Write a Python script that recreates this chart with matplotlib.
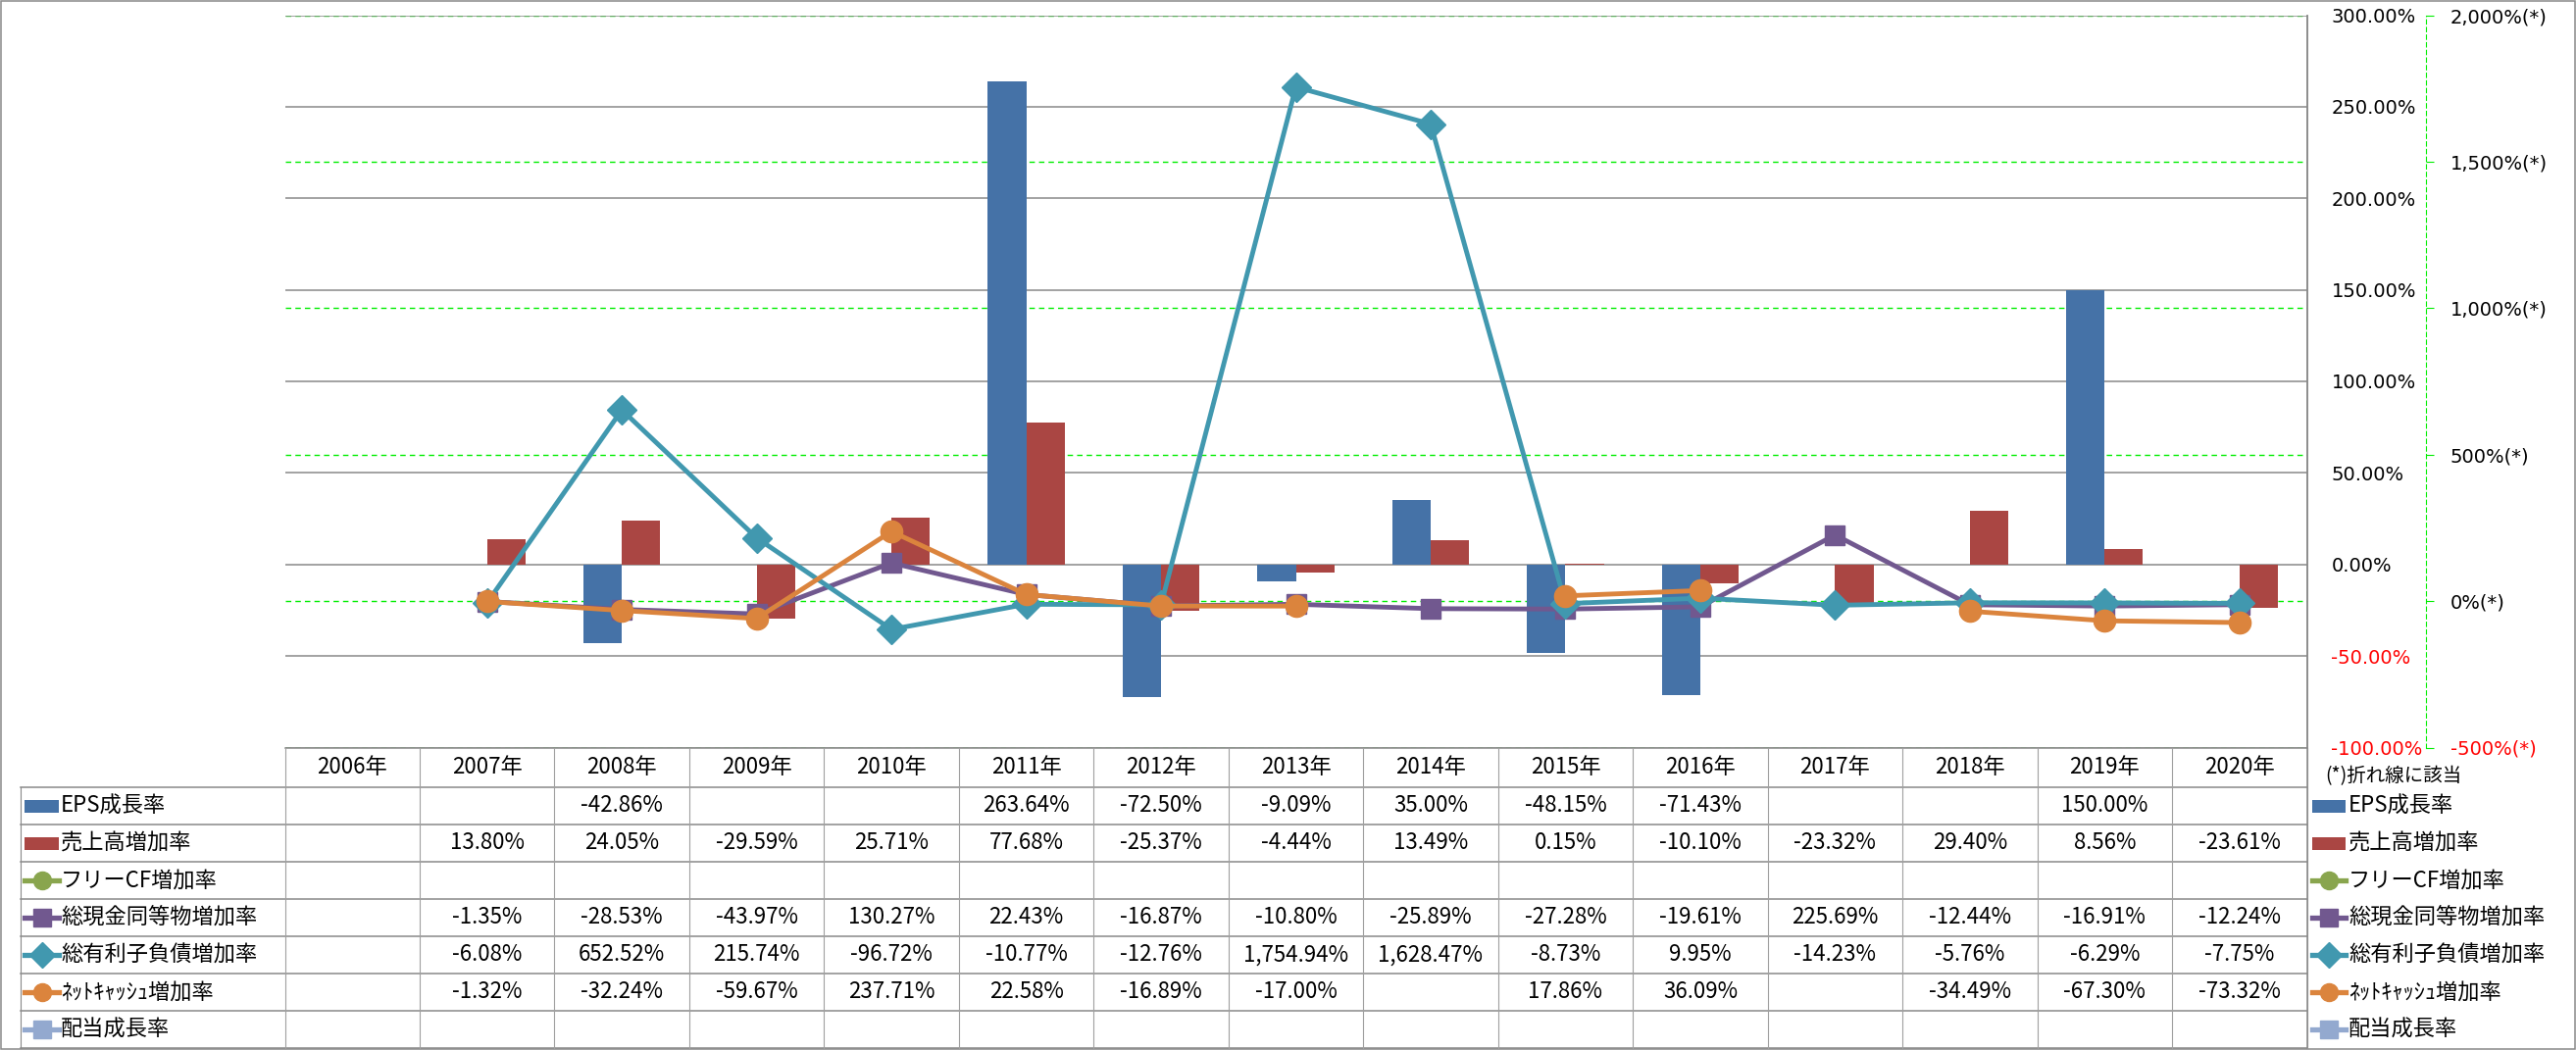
import numpy as np
import matplotlib.pyplot as plt
from matplotlib.patches import Rectangle
from matplotlib.lines import Line2D

plt.rcParams['font.family'] = ['Noto Sans CJK JP', 'DejaVu Sans']

# --- data ---
nan = np.nan
years = [f'{y}年' for y in range(2006, 2021)]
eps = [nan, nan, -42.86, nan, nan, 263.64, -72.50, -9.09, 35.00, -48.15, -71.43, nan, nan, 150.00, nan]
sales = [nan, 13.80, 24.05, -29.59, 25.71, 77.68, -25.37, -4.44, 13.49, 0.15, -10.10, -23.32, 29.40, 8.56, -23.61]
fcf = [nan] * 15
cash = [nan, -1.35, -28.53, -43.97, 130.27, 22.43, -16.87, -10.80, -25.89, -27.28, -19.61, 225.69, -12.44, -16.91, -12.24]
debt = [nan, -6.08, 652.52, 215.74, -96.72, -10.77, -12.76, 1754.94, 1628.47, -8.73, 9.95, -14.23, -5.76, -6.29, -7.75]
netcash = [nan, -1.32, -32.24, -59.67, 237.71, 22.58, -16.89, -17.00, nan, 17.86, 36.09, nan, -34.49, -67.30, -73.32]
dividend = [nan] * 15

names = ['EPS成長率', '売上高増加率', 'フリーCF増加率', '総現金同等物増加率',
         '総有利子負債増加率', 'ﾈｯﾄｷｬｯｼｭ増加率', '配当成長率']
values = [eps, sales, fcf, cash, debt, netcash, dividend]
kinds = ['bar', 'bar', 'line', 'line', 'line', 'line', 'line']
colors = ['#4572A7', '#AA4643', '#89A54E', '#71588F', '#4198AF', '#DB843D', '#93A9CF']
markers = [None, None, 'o', 's', 'D', 'o', 's']
msizes = [0, 0, 16, 15, 15.5, 16, 15]

prim_ticks = list(range(-100, 301, 50))
sec_ticks = list(range(-500, 2001, 500))

# --- layout (pixels) ---
W, H = 2627, 1071
PL, PR, PT, PB = 290.5, 2352.5, 15.5, 762.5
CW = (PR - PL) / len(years)
HDR_B = 803
ROW_H = 38
LBL_L = 21
GRAY = '#898989'
px = 0.72  # pixels -> points at dpi 100

fig = plt.figure(figsize=(W / 100, H / 100), dpi=100)
pos = [PL / W, 1 - PB / H, (PR - PL) / W, (PB - PT) / H]
x = np.arange(len(years))

# secondary axis (green grid + labels), drawn lowest
ax_sec = fig.add_axes(pos, zorder=1)
ax_sec.patch.set_visible(False)
ax_sec.set_xlim(-0.5, len(years) - 0.5)
ax_sec.set_ylim(-500, 2000)
ax_sec.set_yticks(sec_ticks)
ax_sec.set_yticklabels([f'{v:,}%(*)' for v in sec_ticks])
ax_sec.set_xticks([])
ax_sec.yaxis.tick_right()
ax_sec.grid(True, axis='y', color='#00ee00', ls=(0, (4, 3)), lw=1)
for s in ['left', 'top', 'bottom']:
    ax_sec.spines[s].set_visible(False)
ax_sec.spines['right'].set_position(('outward', 121 * px))
ax_sec.spines['right'].set_color('#00ee00')
ax_sec.spines['right'].set_linestyle((0, (4, 3)))
ax_sec.tick_params(axis='y', direction='out', length=8 * px, color='#00ee00',
                   pad=17 * px, labelsize=14, labelfontfamily='DejaVu Sans')
for t, v in zip(ax_sec.get_yticklabels(), sec_ticks):
    t.set_color('red' if v < 0 else 'black')

# primary axis with bars
ax = fig.add_axes(pos, zorder=2)
ax.patch.set_visible(False)
ax.set_xlim(-0.5, len(years) - 0.5)
ax.set_ylim(-100, 300)
ax.set_yticks(prim_ticks)
ax.set_yticklabels([f'{v:.2f}%' for v in prim_ticks])
ax.set_xticks([])
ax.yaxis.tick_right()
ax.set_axisbelow(True)
ax.grid(True, axis='y', color=GRAY, lw=1.1)
for s in ['left', 'top', 'bottom']:
    ax.spines[s].set_visible(False)
ax.spines['right'].set_color(GRAY)
ax.spines['right'].set_linewidth(1.1)
ax.tick_params(axis='y', length=0, pad=25 * px, labelsize=14, labelfontfamily='DejaVu Sans')
for t, v in zip(ax.get_yticklabels(), prim_ticks):
    t.set_color('red' if v < 0 else 'black')

bw = 0.285
ax.bar(x - bw / 2, eps, bw, color=colors[0], zorder=2)
ax.bar(x + bw / 2, sales, bw, color=colors[1], zorder=2)

# lines on secondary scale
ax_ln = fig.add_axes(pos, zorder=3)
ax_ln.patch.set_visible(False)
ax_ln.set_xlim(-0.5, len(years) - 0.5)
ax_ln.set_ylim(-500, 2000)
ax_ln.axis('off')
for vals, k, c, m, ms in zip(values, kinds, colors, markers, msizes):
    if k == 'line':
        ax_ln.plot(x, vals, color=c, lw=3.5, marker=m, ms=ms, mec=c, mew=1)

# --- table + legend overlay ---
ov = fig.add_axes([0, 0, 1, 1], zorder=0)
ov.set_xlim(0, W)
ov.set_ylim(H, 0)
ov.axis('off')

ov.add_patch(Rectangle((0.5, 0.5), W - 1.5, H - 2, fill=False, ec=GRAY, lw=1.1))

n_rows = len(names)
tb_bottom = HDR_B + n_rows * ROW_H
ov.plot([PL, PR], [PB, PB], color=GRAY, lw=1.1)
for r in range(n_rows + 1):
    y = HDR_B + r * ROW_H
    ov.plot([LBL_L, PR], [y, y], color=GRAY, lw=1.1)
ov.plot([LBL_L, LBL_L], [HDR_B, tb_bottom], color=GRAY, lw=0.8)
for i in range(len(years) + 1):
    xx = PL + i * CW
    ov.plot([xx, xx], [PB, tb_bottom], color='#a0a0a0', lw=0.8)
ov.plot([PR, PR], [PT, tb_bottom], color=GRAY, lw=1.1)

for i, yr in enumerate(years):
    ov.text(PL + (i + 0.5) * CW, (PB + HDR_B) / 2, yr, ha='center', va='center', fontsize=16)


def sample(x0, x1, yc, k, c, m):
    if k == 'bar':
        ov.add_patch(Rectangle((x0, yc - 6.5), x1 - x0, 13, color=c, lw=0))
    else:
        ov.add_line(Line2D([x0, x1], [yc, yc], color=c, lw=3.8))
        ov.add_line(Line2D([(x0 + x1) / 2], [yc], color=c, marker=m, ms=13, mec=c, lw=0))


for r, (nm, vals, k, c, m) in enumerate(zip(names, values, kinds, colors, markers)):
    yc = HDR_B + (r + 0.5) * ROW_H
    sample(25, 60, yc, k, c, m)
    ov.text(62, yc, nm, ha='left', va='center', fontsize=16)
    for i, v in enumerate(vals):
        if not np.isnan(v):
            ov.text(PL + (i + 0.5) * CW, yc, f'{v:,.2f}%', ha='center', va='center', fontsize=16)
    # right-hand legend
    sample(2358, 2392, yc, k, c, m)
    ov.text(2395, yc, nm, ha='left', va='center', fontsize=16)

ov.text(2371, 792, '(*)折れ線に該当', ha='left', va='center', fontsize=14)

fig.savefig('out.png', dpi=100)
